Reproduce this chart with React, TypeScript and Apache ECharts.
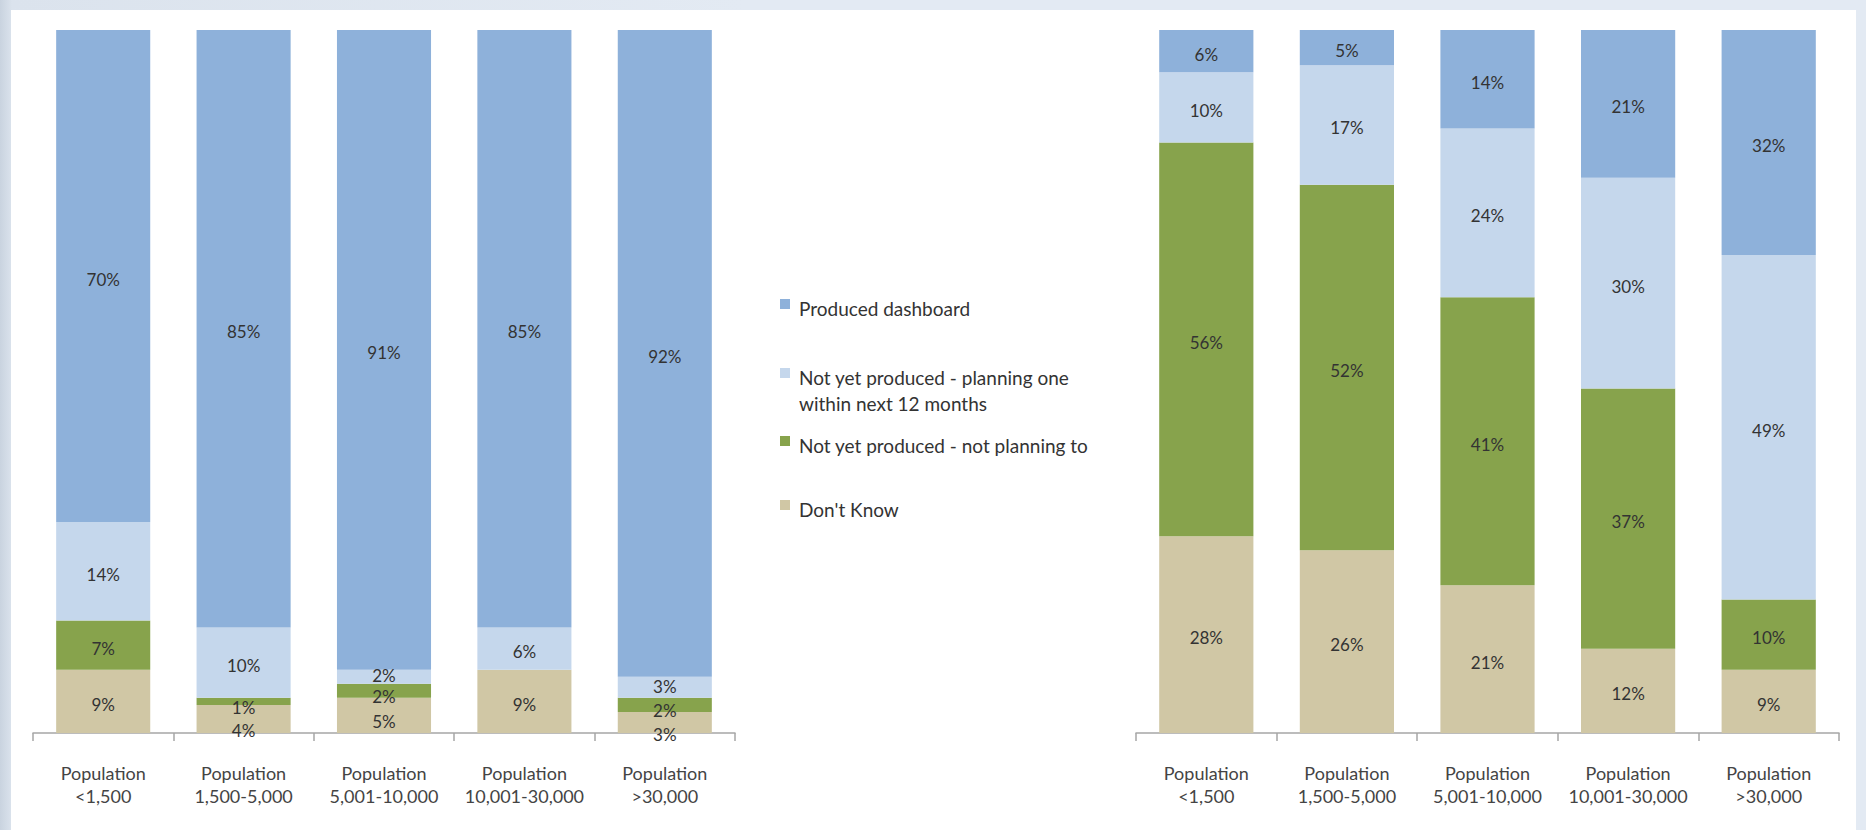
import React, { useEffect, useRef } from "react";
import * as echarts from "echarts";

const categories = [
  "Population\n<1,500",
  "Population\n1,500-5,000",
  "Population\n5,001-10,000",
  "Population\n10,001-30,000",
  "Population\n>30,000",
];

const seriesNames = [
  "Produced dashboard",
  "Not yet produced - planning one\nwithin next 12 months",
  "Not yet produced - not planning to",
  "Don't Know",
];

const seriesColors = ["#8eb1da", "#c5d7ec", "#87a34c", "#d0c7a5"];

// Left chart
const leftProduced = [70, 85, 91, 85, 92];
const leftPlanning = [14, 10, 2, 6, 3];
const leftNotPlanning = [7, 1, 2, 0, 2];
const leftDontKnow = [9, 4, 5, 9, 3];

// Right chart
const rightProduced = [6, 5, 14, 21, 32];
const rightPlanning = [10, 17, 24, 30, 49];
const rightNotPlanning = [56, 52, 41, 37, 10];
const rightDontKnow = [28, 26, 21, 12, 9];

const legendTextY = [308, 377, 445, 509];

export default function App() {
  const ref = useRef<HTMLDivElement>(null);

  useEffect(() => {
    if (!ref.current) return;
    const chart = echarts.init(ref.current, null, { renderer: "svg" });

    const labelStyle = {
      show: true,
      position: "inside" as const,
      fontFamily: "Lato",
      fontSize: 17,
      color: "#333333",
      formatter: (p: any) => (p.value ? p.value + "%" : ""),
    };

    // small segments: nudge labels apart like the original
    const labelOffsetFor = (colorIdx: number, v: number): [number, number] => {
      if (colorIdx === 3 && v <= 4) return [0, 12];
      if (colorIdx === 3 && v <= 5) return [0, 6];
      if (colorIdx === 2 && v <= 2) return [0, 6];
      if (colorIdx === 1 && v <= 3) return [0, -1];
      return [0, 3];
    };

    const makeSeries = (
      idx: number,
      stack: string,
      produced: number[],
      planning: number[],
      notPlanning: number[],
      dontKnow: number[]
    ) => {
      const arrs = [dontKnow, notPlanning, planning, produced];
      const colorIdx = [3, 2, 1, 0];
      return arrs.map((data, i) => ({
        type: "bar",
        name: seriesNames[colorIdx[i]],
        stack,
        xAxisIndex: idx,
        yAxisIndex: idx,
        barCategoryGap: "33%",
        data: data.map((v) => ({
          value: v,
          label: { offset: labelOffsetFor(colorIdx[i], v) },
        })),
        itemStyle: { color: seriesColors[colorIdx[i]] },
        label: labelStyle,
      }));
    };

    const xAxisCommon = {
      type: "category" as const,
      data: categories,
      axisLine: { lineStyle: { color: "#a6a6a6", width: 1.5 } },
      axisTick: { show: true, length: 8, lineStyle: { color: "#a6a6a6", width: 1.5 } },
      axisLabel: {
        interval: 0,
        margin: 28,
        fontFamily: "Lato",
        fontSize: 18,
        lineHeight: 23,
        color: "#444444",
      },
    };
    const yAxisCommon = {
      type: "value" as const,
      min: 0,
      max: 100,
      show: false,
    };

    const legendGraphics: any[] = [];
    seriesNames.forEach((name, i) => {
      legendGraphics.push({
        type: "rect",
        shape: { x: 780, y: legendTextY[i] - 9, width: 10, height: 10 },
        style: { fill: seriesColors[i] },
      });
      legendGraphics.push({
        type: "text",
        x: 799,
        y: legendTextY[i] - 13,
        style: {
          text: name,
          fontFamily: "Lato",
          fontSize: 19,
          lineHeight: 26,
          fill: "#333333",
          verticalAlign: "top",
        },
      });
    });

    chart.setOption({
      animation: false,
      backgroundColor: "transparent",
      grid: [
        { left: 33, top: 30, width: 702, height: 703 },
        { left: 1136, top: 30, width: 703, height: 703 },
      ],
      xAxis: [
        { ...xAxisCommon, gridIndex: 0 },
        { ...xAxisCommon, gridIndex: 1 },
      ],
      yAxis: [
        { ...yAxisCommon, gridIndex: 0 },
        { ...yAxisCommon, gridIndex: 1 },
      ],
      series: [
        ...makeSeries(0, "left", leftProduced, leftPlanning, leftNotPlanning, leftDontKnow),
        ...makeSeries(1, "right", rightProduced, rightPlanning, rightNotPlanning, rightDontKnow),
      ],
      graphic: legendGraphics,
    });

    return () => chart.dispose();
  }, []);

  return (
    <div
      style={{
        position: "fixed",
        left: 0,
        top: 0,
        width: 1866,
        height: 830,
        background: "linear-gradient(90deg, #c9d3df 0px, #dbe3ed 12px, #e3eaf3 40%, #e3eaf3 100%)",
      }}
    >
      <div
        style={{
          position: "absolute",
          left: 11,
          top: 10,
          width: 1845,
          height: 820,
          background: "#ffffff",
        }}
      />
      <div
        ref={ref}
        style={{ position: "absolute", left: 0, top: 0, width: 1866, height: 830 }}
      />
    </div>
  );
}
